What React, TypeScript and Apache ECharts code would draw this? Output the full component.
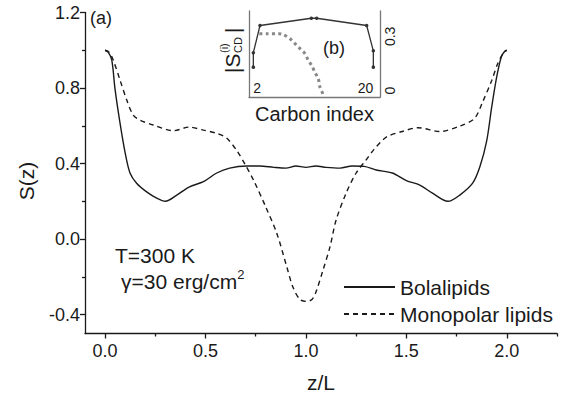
import React, { useEffect, useRef } from "react";
import * as echarts from "echarts";

// Main panel (a): order parameter S(z) vs z/L
const zBola = [0, 0.015, 0.033, 0.05, 0.075, 0.1, 0.124, 0.157, 0.207, 0.257, 0.3, 0.357, 0.42, 0.49, 0.556, 0.62, 0.705, 0.77, 0.84, 0.9, 0.95, 1.0, 1.05, 1.1, 1.17, 1.23, 1.29, 1.35, 1.43, 1.5, 1.567, 1.63, 1.707, 1.766, 1.83, 1.866, 1.9, 1.925, 1.95, 1.973, 1.99, 2.0];
const sBola = [1.0, 0.99, 0.95, 0.79, 0.61, 0.456, 0.35, 0.296, 0.25, 0.217, 0.2, 0.233, 0.277, 0.304, 0.35, 0.376, 0.387, 0.387, 0.38, 0.376, 0.387, 0.38, 0.387, 0.38, 0.376, 0.387, 0.385, 0.366, 0.35, 0.31, 0.286, 0.243, 0.2, 0.233, 0.296, 0.383, 0.52, 0.7, 0.86, 0.966, 0.995, 1.0];

const zMono = [0, 0.02, 0.04, 0.075, 0.108, 0.14, 0.174, 0.24, 0.34, 0.42, 0.49, 0.556, 0.605, 0.655, 0.7, 0.74, 0.8, 0.855, 0.905, 0.935, 0.97, 1.0, 1.03, 1.05, 1.085, 1.12, 1.15, 1.2, 1.25, 1.3, 1.335, 1.4, 1.48, 1.557, 1.667, 1.77, 1.84, 1.88, 1.925, 1.955, 1.98, 2.0];
const sMono = [1.0, 0.99, 0.95, 0.84, 0.736, 0.657, 0.63, 0.604, 0.574, 0.593, 0.577, 0.56, 0.535, 0.47, 0.39, 0.31, 0.17, 0.03, -0.148, -0.254, -0.32, -0.33, -0.32, -0.28, -0.164, -0.04, 0.1, 0.243, 0.35, 0.42, 0.47, 0.54, 0.57, 0.59, 0.57, 0.6, 0.64, 0.727, 0.84, 0.93, 0.98, 1.0];

const xMajorTicks = [0, 0.5, 1.0, 1.5, 2.0];
const xMinorTicks = [0.25, 0.75, 1.25, 1.75, 2.25];
const yMajorTicks = [-0.4, 0, 0.4, 0.8, 1.2];
const yMinorTicks = [-0.2, 0.2, 0.6, 1.0];

// Inset panel (b): |S_CD| vs carbon index
const carbonBola = [2, 2, 3, 10.7, 11.5, 19, 20, 20];
const scdBola = [0.13, 0.21, 0.36, 0.4, 0.4, 0.36, 0.22, 0.13];
const carbonMono = [2.9, 4, 5.8, 6.5, 7.5, 8.25, 9, 9.75, 10.25, 10.75, 11.25, 11.75, 12.0, 12.45];
const scdMono = [0.315, 0.315, 0.315, 0.31, 0.287, 0.26, 0.232, 0.204, 0.167, 0.139, 0.1, 0.065, 0.018, -0.018];
const insetXTicks = [2, 20];
const insetYTicks = [0, 0.3];

const FONT = "'Liberation Sans', Arial, sans-serif";
const INK = "#1a1a1a";
const GREY = "#777";

const zip = (a: number[], b: number[]) => a.map((v, i) => [v, b[i]]);

export default function App() {
  const ref = useRef<HTMLDivElement>(null);
  useEffect(() => {
    if (!ref.current) return;
    const chart = echarts.init(ref.current, undefined, { renderer: "svg" });
    const axisLine = { show: true, onZero: false, lineStyle: { color: INK, width: 1.3 } };
    const insetLine = { show: true, onZero: false, lineStyle: { color: GREY, width: 1.3 } };
    const option: any = {
      animation: false,
      backgroundColor: "#fff",
      textStyle: { fontFamily: FONT, color: INK },
      grid: [
        { left: 85, top: 12.5, width: 472, height: 321 },
        { left: 249, top: 11, width: 131, height: 86 },
      ],
      xAxis: [
        {
          gridIndex: 0, type: "value", min: -0.1, max: 2.25, position: "bottom",
          axisLine,
          axisTick: { show: true, length: 5, customValues: xMajorTicks, lineStyle: { color: INK, width: 1.3 } },
          axisLabel: { customValues: xMajorTicks, formatter: (v: number) => v.toFixed(1), fontSize: 18, color: INK, margin: 8, fontFamily: FONT },
          splitLine: { show: false },
          name: "z/L", nameLocation: "middle", nameGap: 38,
          nameTextStyle: { fontSize: 21, color: INK, fontFamily: FONT },
        },
        {
          gridIndex: 0, type: "value", min: -0.1, max: 2.25, position: "bottom",
          axisLine: { show: false, onZero: false },
          axisTick: { show: true, length: 3, customValues: xMinorTicks, lineStyle: { color: INK, width: 1.3 } },
          axisLabel: { show: false },
          splitLine: { show: false },
        },
        {
          gridIndex: 1, type: "value", min: 1.35, max: 21, position: "bottom",
          axisLine: insetLine,
          axisTick: { show: false },
          axisLabel: { inside: true, customValues: insetXTicks, fontSize: 14, color: INK, margin: 2, alignMinLabel: "left", alignMaxLabel: "right", fontFamily: FONT },
          splitLine: { show: false },
          name: "Carbon index", nameLocation: "middle", nameGap: 7,
          nameTextStyle: { fontSize: 20, color: INK, fontFamily: FONT, verticalAlign: "top" },
        },
      ],
      yAxis: [
        {
          gridIndex: 0, type: "value", min: -0.5, max: 1.2, position: "left",
          axisLine,
          axisTick: { show: true, length: 5, customValues: yMajorTicks, lineStyle: { color: INK, width: 1.3 } },
          axisLabel: { customValues: yMajorTicks, formatter: (v: number) => v.toFixed(1), fontSize: 18, color: INK, margin: 5, fontFamily: FONT },
          splitLine: { show: false },
          name: "S(z)", nameLocation: "middle", nameGap: 48,
          nameTextStyle: { fontSize: 21, color: INK, fontFamily: FONT, padding: [0, 16, 0, 0] },
        },
        {
          gridIndex: 0, type: "value", min: -0.5, max: 1.2, position: "left",
          axisLine: { show: false, onZero: false },
          axisTick: { show: true, length: 3, customValues: yMinorTicks, lineStyle: { color: INK, width: 1.3 } },
          axisLabel: { show: false },
          splitLine: { show: false },
        },
        {
          gridIndex: 1, type: "value", min: -0.035, max: 0.44, position: "left",
          axisLine: insetLine,
          axisTick: { show: false },
          axisLabel: { show: false },
          splitLine: { show: false },
        },
        {
          gridIndex: 1, type: "value", min: -0.035, max: 0.44, position: "right",
          axisLine: insetLine,
          axisTick: { show: false },
          axisLabel: { customValues: insetYTicks, rotate: 90, fontSize: 14, color: INK, margin: 3, fontFamily: FONT, formatter: (v: number) => String(v) },
          splitLine: { show: false },
        },
      ],
      legend: {
        data: ["Bolalipids", "Monopolar lipids"],
        orient: "vertical", left: 343, top: 275, padding: 0,
        itemWidth: 51, itemHeight: 14, itemGap: 3,
        itemStyle: { opacity: 0 },
        textStyle: { fontSize: 21, color: INK, lineHeight: 24, fontFamily: FONT },
      },
      series: [
        {
          name: "Bolalipids", type: "line", xAxisIndex: 0, yAxisIndex: 0,
          data: zip(zBola, sBola), symbol: "none", showSymbol: false, smooth: 0.3,
          color: INK, lineStyle: { color: INK, width: 1.4 },
        },
        {
          name: "Monopolar lipids", type: "line", xAxisIndex: 0, yAxisIndex: 0,
          data: zip(zMono, sMono), symbol: "none", showSymbol: false, smooth: 0.3,
          color: INK, lineStyle: { color: INK, width: 1.4, type: [5, 4] },
        },
        {
          name: "inset-bola", type: "line", xAxisIndex: 2, yAxisIndex: 2,
          data: zip(carbonBola, scdBola), symbol: "circle", symbolSize: 3.5,
          color: "#333", itemStyle: { color: "#333" }, lineStyle: { color: "#333", width: 1.3 },
        },
        {
          name: "inset-mono", type: "line", xAxisIndex: 2, yAxisIndex: 2,
          data: zip(carbonMono, scdMono), symbol: "none", showSymbol: false, smooth: 0.3,
          color: "#888", lineStyle: { color: "#888", width: 3, type: [3, 3.3], cap: "butt" },
        },
      ],
      graphic: [
        { type: "text", left: 90, top: 9, style: { text: "(a)", fontSize: 18, fill: INK, fontFamily: FONT } },
        { type: "text", left: 323, top: 39, style: { text: "(b)", fontSize: 18, fill: INK, fontFamily: FONT } },
        { type: "text", left: 115, top: 245, style: { text: "T=300 K", fontSize: 21, fill: INK, fontFamily: FONT } },
        {
          type: "text", left: 121, top: 268,
          style: {
            text: "{a|γ=30 erg/cm}{s|2}",
            fill: INK, fontFamily: FONT,
            rich: {
              a: { fontSize: 21, lineHeight: 26, fontFamily: FONT, fill: INK },
              s: { fontSize: 13, lineHeight: 13, verticalAlign: "top", fontFamily: FONT, fill: INK },
            },
          },
        },
        {
          type: "group", x: 242, y: 73, rotation: Math.PI / 2,
          children: [
            { type: "text", x: 0, y: -10, style: { text: "|S", fontSize: 21, fill: INK, fontFamily: FONT, verticalAlign: "middle", align: "left" } },
            { type: "text", x: 20, y: -18.5, style: { text: "(i)", fontSize: 11, fill: INK, fontFamily: FONT, verticalAlign: "middle", align: "left" } },
            { type: "text", x: 20, y: -4.5, style: { text: "CD", fontSize: 11, fill: INK, fontFamily: FONT, verticalAlign: "middle", align: "left" } },
            { type: "text", x: 40, y: -10, style: { text: "|", fontSize: 21, fill: INK, fontFamily: FONT, verticalAlign: "middle", align: "left" } },
          ],
        },
      ],
    };
    chart.setOption(option);
    return () => chart.dispose();
  }, []);
  return (
    <div
      ref={ref}
      style={{ position: "fixed", left: 0, top: 0, width: 578, height: 398, background: "#fff" }}
    />
  );
}
